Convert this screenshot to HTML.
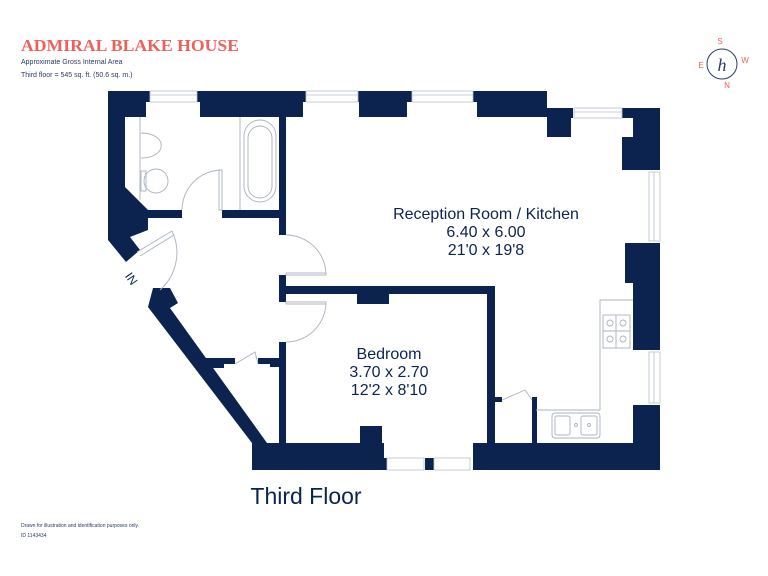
<!DOCTYPE html>
<html><head><meta charset="utf-8"><style>
html,body{margin:0;padding:0;background:#fff;}
svg{display:block;}
</style></head><body>
<svg width="768" height="576" viewBox="0 0 768 576" xmlns="http://www.w3.org/2000/svg" font-family="Liberation Sans, sans-serif">
<g fill="#0c2350" stroke="none">
<rect x="108" y="91" width="439" height="26"/>
<rect x="547" y="108" width="26" height="29"/>
<rect x="622" y="108" width="38" height="62"/>
<rect x="633" y="108" width="27" height="62"/>
<rect x="625" y="243" width="35" height="40"/>
<rect x="633" y="283" width="27" height="67"/>
<rect x="633" y="405" width="27" height="65"/>
<rect x="473" y="443" width="187" height="27"/>
<rect x="252" y="443" width="135" height="27"/>
<rect x="425" y="458" width="9" height="12"/>
<rect x="360" y="426" width="22" height="17"/>
<polygon points="108,91 125,91 125,187 148,210 148,218 108,218"/>
<polygon points="108,218 148,218 148,230 130,237 140,250 126,262 108,240"/>
<rect x="108" y="210" width="74" height="8"/>
<rect x="222" y="210" width="64" height="8"/>
<rect x="279" y="117" width="7" height="118"/>
<polygon points="153,288 170,288 178,303 170,308 267,443 252,443 148,307"/>
<polygon points="205,358 235,358 235,364 224,364 224,368 210,368"/>
<polygon points="258,358 286,358 286,367 270,367 270,364 258,364"/>
<rect x="279" y="342" width="7" height="101"/>
<rect x="279" y="275" width="7" height="27"/>
<rect x="279" y="286" width="216" height="8"/>
<rect x="357" y="294" width="32" height="10"/>
<rect x="487" y="286" width="8" height="157"/>
<rect x="495" y="397" width="7" height="5"/>
<rect x="532" y="397" width="5" height="46"/>
</g>
<g fill="#fff" stroke="#b8c0cc" stroke-width="0.8">
<rect x="146" y="102" width="54" height="16" stroke="none"/>
<rect x="150" y="91" width="47" height="11"/>
<line x1="150" y1="95" x2="197" y2="95"/>
<rect x="303" y="102" width="56" height="16" stroke="none"/>
<rect x="306" y="91" width="52" height="11"/>
<line x1="306" y1="95" x2="358" y2="95"/>
<rect x="407" y="102" width="70" height="16" stroke="none"/>
<rect x="412" y="91" width="61" height="11"/>
<line x1="412" y1="95" x2="473" y2="95"/>
<rect x="571" y="118" width="62" height="19" stroke="none"/>
<rect x="574" y="108" width="48" height="10"/>
<line x1="574" y1="112" x2="622" y2="112"/>
<rect x="633" y="170" width="16" height="73" stroke="none"/>
<rect x="649" y="172" width="11" height="69"/>
<line x1="654" y1="172" x2="654" y2="241"/>
<rect x="633" y="350" width="16" height="55" stroke="none"/>
<rect x="649" y="352" width="11" height="51"/>
<line x1="654" y1="352" x2="654" y2="403"/>
<rect x="384" y="443" width="89" height="15" stroke="none"/>
<rect x="387" y="458" width="37" height="12"/>
<rect x="434" y="458" width="36" height="12"/>
</g>
<g fill="none" stroke="#aab3c0" stroke-width="0.9">
<line x1="240" y1="117" x2="240" y2="210"/>
<rect x="244" y="120" width="32" height="82" rx="16"/>
<rect x="248" y="126" width="24" height="72" rx="12"/>
<line x1="140" y1="117" x2="140" y2="200"/>
<path d="M141,133 C 168,133 168,158 141,158"/>
<ellipse cx="156" cy="181" rx="12" ry="12"/>
<rect x="141" y="171" width="5" height="20"/>
<path d="M182,210 A 40 40 0 0 1 222,170"/>
<rect x="219" y="170" width="3" height="40"/>
<path d="M286,235 A 40 40 0 0 1 326,275"/>
<rect x="286" y="273" width="40" height="2"/>
<path d="M326,302 A 40 40 0 0 1 286,342"/>
<rect x="286" y="302" width="40" height="2"/>
<path d="M172,231 A 50 50 0 0 1 160,290"/>
<line x1="137" y1="252" x2="172" y2="231"/>
<line x1="140" y1="256" x2="174" y2="235"/>
<path d="M235,364 L 255,352 L 258,364"/>
<path d="M502,400 L 525,390 L 532,400"/>
<path d="M633,300 L 600,300 L 600,410 L 536,410"/>
<rect x="603" y="315" width="27" height="33"/>
<line x1="603" y1="331" x2="630" y2="331"/>
<line x1="616" y1="315" x2="616" y2="348"/>
<circle cx="610" cy="323" r="3"/><circle cx="623" cy="323" r="3"/>
<circle cx="610" cy="339" r="3"/><circle cx="623" cy="339" r="3"/>
<rect x="552" y="413" width="48" height="25" rx="3"/>
<rect x="555" y="416" width="15" height="19" rx="2"/>
<rect x="581" y="416" width="16" height="19" rx="2"/>
<circle cx="576" cy="425" r="1.5"/><circle cx="589" cy="425" r="1.5"/>
</g>
<g fill="#0c2350" text-anchor="middle">
<text x="486" y="219" font-size="16">Reception Room / Kitchen</text>
<text x="486" y="237" font-size="16">6.40 x 6.00</text>
<text x="486" y="255" font-size="16">21'0 x 19'8</text>
<text x="389" y="359" font-size="16">Bedroom</text>
<text x="389" y="377" font-size="16">3.70 x 2.70</text>
<text x="389" y="395" font-size="16">12'2 x 8'10</text>
<text x="306" y="504" font-size="23">Third Floor</text>
<text x="0" y="0" font-size="12" transform="translate(128,281) rotate(55)">IN</text>
</g>
<text x="21" y="51" font-family="Liberation Serif, serif" font-weight="bold" font-size="17" fill="#f0605a" textLength="218" lengthAdjust="spacingAndGlyphs">ADMIRAL BLAKE HOUSE</text>
<text x="21" y="64" font-size="7" fill="#2a3b66">Approximate Gross Internal Area</text>
<text x="21" y="77" font-size="7" fill="#2a3b66">Third floor = 545 sq. ft. (50.6 sq. m.)</text>
<text x="21" y="527" font-size="5" fill="#2a3b66">Drawn for illustration and identification purposes only.</text>
<text x="21" y="537" font-size="5" fill="#2a3b66">ID 1143434</text>
<circle cx="722" cy="64" r="15" fill="none" stroke="#2a3b66" stroke-width="1"/>
<text x="722" y="71" font-family="Liberation Serif, serif" font-style="italic" font-size="18" fill="#2a3b66" text-anchor="middle">h</text>
<g font-size="8" fill="#f0605a" text-anchor="middle">
<text x="720" y="44">S</text><text x="745" y="63">W</text><text x="701" y="68">E</text><text x="727" y="88">N</text>
</g>
</svg>
</body></html>
